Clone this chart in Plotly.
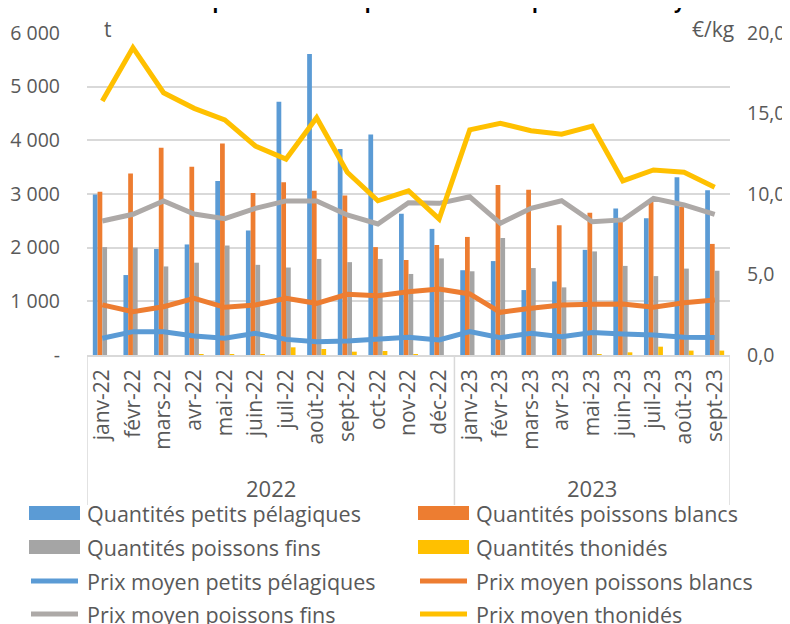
import plotly.graph_objects as go

months = ["janv-22", "févr-22", "mars-22", "avr-22", "mai-22", "juin-22", "juil-22",
          "août-22", "sept-22", "oct-22", "nov-22", "déc-22",
          "janv-23", "févr-23", "mars-23", "avr-23", "mai-23", "juin-23", "juil-23",
          "août-23", "sept-23"]
years = ["2022", "2023"]
year_counts = [12, 9]

q_pelagiques = [2990, 1490, 1975, 2060, 3240, 2320, 4720, 5610, 3840, 4110, 2630, 2350,
                1580, 1750, 1210, 1370, 1960, 2730, 2550, 3310, 3070]
q_blancs = [3040, 3380, 3860, 3510, 3940, 3020, 3220, 3060, 2970, 2010, 1770, 2050,
            2200, 3170, 3080, 2420, 2650, 2530, 2850, 2760, 2070]
q_fins = [2010, 2000, 1650, 1720, 2040, 1680, 1630, 1790, 1730, 1790, 1510, 1800,
          1560, 2180, 1620, 1260, 1930, 1660, 1470, 1610, 1570]
q_thonides = [0, 0, 0, 5, 5, 15, 143, 112, 62, 75, 3, 0,
              0, 0, 0, 0, 3, 50, 155, 82, 82]

p_pelagiques = [1.04, 1.45, 1.45, 1.18, 1.04, 1.35, 0.97, 0.83, 0.87, 0.97, 1.10, 0.93,
                1.45, 1.08, 1.35, 1.14, 1.39, 1.30, 1.24, 1.10, 1.08]
p_blancs = [3.11, 2.69, 3.00, 3.52, 2.96, 3.11, 3.52, 3.21, 3.77, 3.68, 3.93, 4.10,
            3.79, 2.65, 2.90, 3.11, 3.15, 3.17, 2.96, 3.25, 3.42]
p_fins = [8.32, 8.74, 9.57, 8.76, 8.47, 9.11, 9.57, 9.57, 8.70, 8.14, 9.46, 9.42,
          9.83, 8.18, 9.11, 9.58, 8.28, 8.39, 9.73, 9.32, 8.74]
p_thonides = [15.78, 19.09, 16.29, 15.32, 14.60, 12.98, 12.17, 14.74, 11.35, 9.58, 10.20, 8.45,
              13.98, 14.39, 13.93, 13.71, 14.22, 10.81, 11.49, 11.35, 10.42]

left_tickvals = [0, 1000, 2000, 3000, 4000, 5000, 6000]
left_ticktext = ["-", "1 000", "2 000", "3 000", "4 000", "5 000", "6 000"]
right_tickvals = [0, 5, 10, 15, 20]

bar_names = ["Quantités petits pélagiques", "Quantités poissons blancs",
             "Quantités poissons fins", "Quantités thonidés"]
line_names = ["Prix moyen petits pélagiques", "Prix moyen poissons blancs",
              "Prix moyen poissons fins", "Prix moyen thonidés"]
colors = ["#5B9BD5", "#ED7D31", "#A5A5A5", "#FFC000"]
line_colors = ["#5B9BD5", "#ED7D31", "#ADA9A7", "#FFC000"]

title_text = "Évolution des quantités et des prix de vente des poissons en Guyane"

# page has an 8px body margin: figure drawn from (8, 8) of the window
W, H = 782, 616
L, R, T, B = 79, 60, 25, 269
PW, PH = W - L - R, H - T - B
FONT = "Open Sans"
TXT = "#595959"
GRID = "#D9D9D9"


def py(p):
    return (H - B - p) / PH


def px(p):
    return (p - L) / PW


fig = go.Figure()
for vals, name, col in zip([q_pelagiques, q_blancs, q_fins, q_thonides], bar_names, colors):
    fig.add_trace(go.Bar(x=months, y=vals, name=name, marker_color=col,
                         marker_line_width=0, showlegend=False, yaxis="y"))
for vals, name, col in zip([p_pelagiques, p_blancs, p_fins, p_thonides], line_names, line_colors):
    fig.add_trace(go.Scatter(x=months, y=vals, name=name, mode="lines",
                             line=dict(color=col, width=5), showlegend=False, yaxis="y2"))

shapes = []
annotations = []

# year group dividers and labels
start = 0
bounds = [-0.5]
for yr, n in zip(years, year_counts):
    annotations.append(dict(x=start + (n - 1) / 2, xref="x", y=py(480), yref="paper",
                            text=yr, showarrow=False, font=dict(family=FONT, size=22, color=TXT),
                            xanchor="center", yanchor="middle"))
    start += n
    bounds.append(start - 0.5)
for b in bounds:
    shapes.append(dict(type="line", xref="x", x0=b, x1=b, yref="paper", y0=0, y1=py(497),
                       line=dict(color=GRID, width=1.5)))

# unit labels
annotations.append(dict(x=px(100), xref="paper", y=py(21), yref="paper", text="t",
                        showarrow=False, font=dict(family=FONT, size=21, color=TXT),
                        xanchor="center", yanchor="middle"))
annotations.append(dict(x=px(728), xref="paper", y=py(21), yref="paper", text="€/kg",
                        showarrow=False, font=dict(family=FONT, size=21, color=TXT),
                        xanchor="right", yanchor="middle", bgcolor="white"))

# title (cut off at top)
annotations.append(dict(x=px(389), xref="paper", y=py(-7), yref="paper",
                        text="<b>" + title_text + "</b>", showarrow=False,
                        font=dict(family=FONT, size=19, color="black"),
                        xanchor="center", yanchor="middle"))

# legend (manual, two columns)
legend_items = [(bar_names[0], colors[0], "bar"), (bar_names[1], colors[1], "bar"),
                (bar_names[2], colors[2], "bar"), (bar_names[3], colors[3], "bar"),
                (line_names[0], line_colors[0], "line"), (line_names[1], line_colors[1], "line"),
                (line_names[2], line_colors[2], "line"), (line_names[3], line_colors[3], "line")]
row_y = [505, 539, 573, 606]
col_x = [21, 410]
for i, (name, col, kind) in enumerate(legend_items):
    r, c = divmod(i, 2)
    yc = row_y[r]
    x0 = col_x[c]
    if kind == "bar":
        shapes.append(dict(type="rect", xref="paper", yref="paper",
                           x0=px(x0), x1=px(x0 + 51), y0=py(yc - 7), y1=py(yc + 7),
                           fillcolor=col, line=dict(width=0)))
    else:
        shapes.append(dict(type="line", xref="paper", yref="paper",
                           x0=px(x0 + 2), x1=px(x0 + 49), y0=py(yc), y1=py(yc),
                           line=dict(color=col, width=5)))
    annotations.append(dict(x=px(x0 + 56), xref="paper", y=py(yc), yref="paper", text=name,
                            showarrow=False, font=dict(family=FONT, size=21.5, color=TXT),
                            xanchor="left", yanchor="middle"))

fig.update_layout(
    width=W, height=H,
    margin=dict(l=L, r=R, t=T, b=B, autoexpand=False),
    paper_bgcolor="white", plot_bgcolor="white",
    separators=", ",
    barmode="group", bargap=0.38, bargroupgap=0,
    font=dict(family=FONT, color=TXT),
    xaxis=dict(type="category", range=[-0.5, len(months) - 0.5], tickangle=-90,
               tickfont=dict(family=FONT, size=21, color=TXT), ticks="",
               showline=True, linecolor=GRID, linewidth=1.5, showgrid=False,
               ticklabelstandoff=4),
    yaxis=dict(range=[0, 6000], tickvals=left_tickvals, ticktext=left_ticktext,
               tickfont=dict(family=FONT, size=19.5, color=TXT), ticks="",
               showgrid=True, gridcolor=GRID, gridwidth=1.5, zeroline=False,
               ticklabelstandoff=26),
    yaxis2=dict(range=[0, 20], tickvals=right_tickvals, tickformat=".1f",
                overlaying="y", side="right", showgrid=False, zeroline=False,
                tickfont=dict(family=FONT, size=19.5, color=TXT), ticks="",
                ticklabelstandoff=16),
    shapes=shapes, annotations=annotations,
)

fig.write_html("out.html")
